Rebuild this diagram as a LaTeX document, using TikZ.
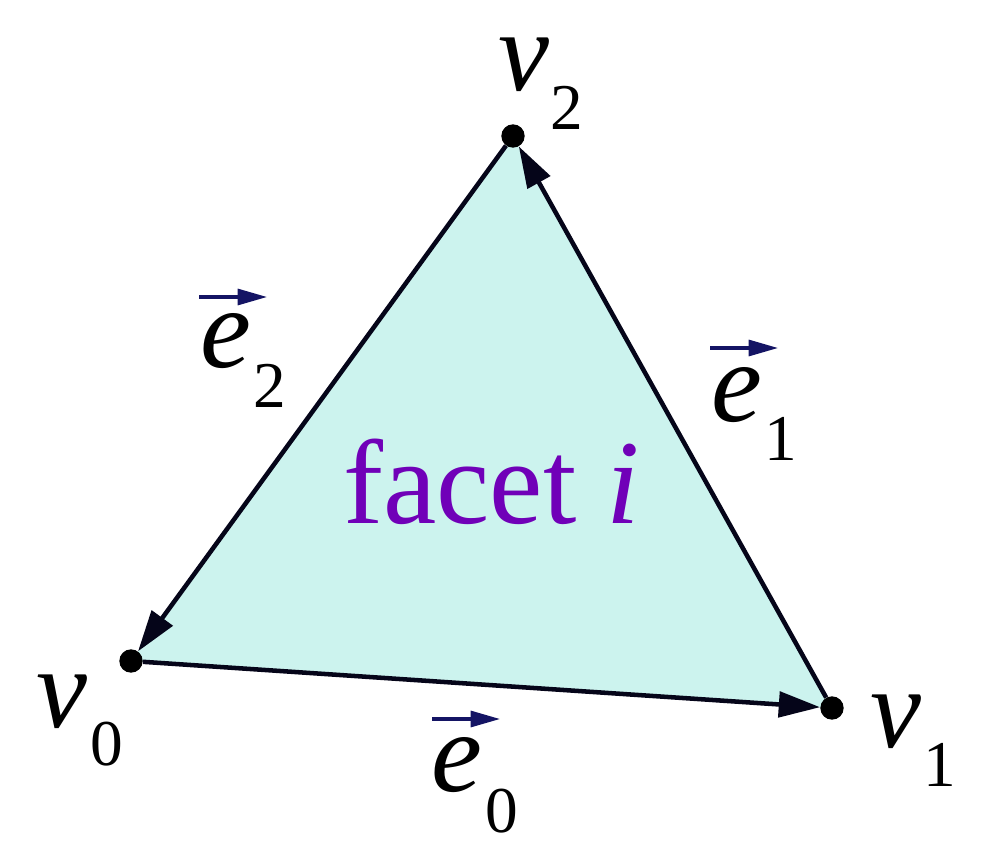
\documentclass[tikz,border=0pt]{standalone}
\usepackage{fontspec}
\setmainfont{Liberation Serif}
\usetikzlibrary{arrows.meta}
\definecolor{facetfill}{RGB}{204,243,238}
\definecolor{facetpurple}{RGB}{112,0,184}
\definecolor{vecnavy}{RGB}{20,20,100}
\definecolor{edgecol}{RGB}{5,5,25}
\begin{document}
\begin{tikzpicture}[x=0.75pt,y=-0.75pt,
  vdot/.style={circle,fill=black,draw=none,inner sep=0pt,minimum size=17.5pt},
  edge/.style={draw=edgecol,line width=3.4pt,-{Triangle[length=31pt,width=19pt]}},
  bigsym/.style={anchor=base west,inner sep=0pt,font=\fontsize{86}{86}\selectfont\itshape},
  subsym/.style={anchor=base west,inner sep=0pt,font=\fontsize{49}{49}\selectfont},
  vecarrow/.style={draw=vecnavy,line width=2.3pt,-{Triangle[length=22pt,width=12pt]}},
  facettext/.style={anchor=base west,inner sep=0pt,text=facetpurple,font=\fontsize{90}{90}\selectfont}
]
\useasboundingbox (0,0) rectangle (1002,866);
\coordinate (p0) at (131,661);
\coordinate (p1) at (832,708);
\coordinate (p2) at (513,136);
\fill[facetfill] (p0) -- (p1) -- (p2) -- cycle;
\node[vdot] (v0) at (p0) {};
\node[vdot] (v1) at (p1) {};
\node[vdot] (v2) at (p2) {};
\draw[edge] (v0) -- (v1);
\draw[edge] (v1) -- (v2);
\draw[edge] (v2) -- (v0);
% vertex labels
\node[bigsym] (lv0) at (36,727) {v};
\node[subsym] (lv0s) at (90,765) {0};
\node[bigsym] (lv1) at (870,747) {v};
\node[subsym] (lv1s) at (923,786) {1};
\node[bigsym] (lv2) at (498,91) {v};
\node[subsym] (lv2s) at (550,130) {2};
% edge labels
\node[bigsym] (le0) at (431,791) {e};
\node[subsym] (le0s) at (485,832) {0};
\node[bigsym] (le1) at (711,421) {e};
\node[subsym] (le1s) at (764,460) {1};
\node[bigsym] (le2) at (200,367) {e};
\node[subsym] (le2s) at (253,407) {2};
\coordinate (a0s) at (432,719); \coordinate (a0e) at (500,719);
\coordinate (a1s) at (710,348); \coordinate (a1e) at (778,348);
\coordinate (a2s) at (199,297); \coordinate (a2e) at (267,297);
\draw[vecarrow] (a0s) -- (a0e);
\draw[vecarrow] (a1s) -- (a1e);
\draw[vecarrow] (a2s) -- (a2e);
\node[facettext] (facet) at (343,523) {facet \textit{i}};
\end{tikzpicture}
\end{document}
